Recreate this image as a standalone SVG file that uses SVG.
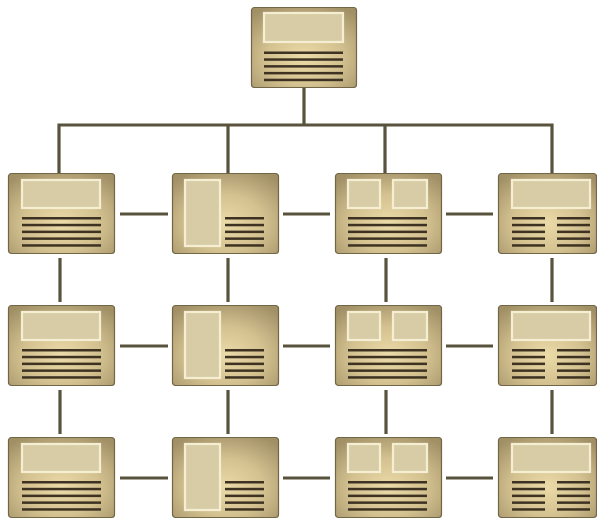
<svg xmlns="http://www.w3.org/2000/svg" width="597" height="519" viewBox="0 0 597 519">
<defs>
<radialGradient id="boxg" cx="0.5" cy="0.62" r="0.72">
<stop offset="0" stop-color="#ebdba8"/>
<stop offset="0.5" stop-color="#d3c190"/>
<stop offset="1" stop-color="#a19066"/>
</radialGradient>
<filter id="glow" x="-10%" y="-10%" width="120%" height="120%">
<feGaussianBlur stdDeviation="0.7"/>
</filter>
<style>
.box{fill:url(#boxg);stroke:#716646;stroke-width:1.2}
.pan{fill:#d8cca6;stroke:#f6eed3;stroke-width:2.2;filter:url(#glow)}
.ln{fill:#3e3322}
.con{fill:none;stroke:#59533d;stroke-width:3.2;stroke-linejoin:miter}
</style>
<g id="l5w">
<rect class="ln" x="0" y="0" width="79" height="2.5"/>
<rect class="ln" x="0" y="6.8" width="79" height="2.5"/>
<rect class="ln" x="0" y="13.6" width="79" height="2.5"/>
<rect class="ln" x="0" y="20.4" width="79" height="2.5"/>
<rect class="ln" x="0" y="27.2" width="79" height="2.5"/>
</g>
<g id="l5n">
<rect class="ln" x="0" y="0" width="39" height="2.5"/>
<rect class="ln" x="0" y="6.8" width="39" height="2.5"/>
<rect class="ln" x="0" y="13.6" width="39" height="2.5"/>
<rect class="ln" x="0" y="20.4" width="39" height="2.5"/>
<rect class="ln" x="0" y="27.2" width="39" height="2.5"/>
</g>
<g id="l5s">
<rect class="ln" x="0" y="0" width="33" height="2.5"/>
<rect class="ln" x="0" y="6.8" width="33" height="2.5"/>
<rect class="ln" x="0" y="13.6" width="33" height="2.5"/>
<rect class="ln" x="0" y="20.4" width="33" height="2.5"/>
<rect class="ln" x="0" y="27.2" width="33" height="2.5"/>
</g>
<g id="typeA">
<rect class="box" x="0.5" y="0.5" width="106" height="80" rx="3"/>
<rect class="pan" x="14" y="7" width="78" height="28"/>
<use href="#l5w" x="14" y="44"/>
</g>
<g id="typeB">
<rect class="box" x="0.5" y="0.5" width="106" height="80" rx="3"/>
<rect class="pan" x="13" y="7" width="35" height="66"/>
<use href="#l5n" x="53" y="44"/>
</g>
<g id="typeC">
<rect class="box" x="0.5" y="0.5" width="106" height="80" rx="3"/>
<rect class="pan" x="13" y="7" width="32" height="28"/>
<rect class="pan" x="58" y="7" width="34" height="28"/>
<use href="#l5w" x="13" y="44"/>
</g>
<g id="typeD">
<rect class="box" x="0.5" y="0.5" width="98" height="80" rx="3"/>
<rect class="pan" x="14" y="7" width="78" height="28"/>
<use href="#l5s" x="14" y="44"/>
<use href="#l5s" x="59" y="44"/>
</g>
</defs>
<rect width="597" height="519" fill="#ffffff"/>
<g id="connectors">
<path class="con" d="M304,87 V125 M59,173 V125 H552 V173 M228,125 V173 M385,125 V173"/>
<path class="con" d="M120,214 H168 M283,214 H330 M446,214 H493"/>
<path class="con" d="M120,346 H168 M283,346 H330 M446,346 H493"/>
<path class="con" d="M120,478 H168 M283,478 H330 M446,478 H493"/>
<path class="con" d="M60,258 V302 M228,258 V302 M386,258 V302 M552,258 V302"/>
<path class="con" d="M60,390 V434 M228,390 V434 M386,390 V434 M552,390 V434"/>
</g>
<g id="top">
<rect class="box" x="251.5" y="7.5" width="105" height="80" rx="3"/>
<rect class="pan" x="264" y="13" width="79" height="29"/>
<use href="#l5w" x="264" y="51.5"/>
</g>
<g id="r1c1"><use href="#typeA" x="8" y="173"/></g>
<g id="r1c2"><use href="#typeB" x="172" y="173"/></g>
<g id="r1c3"><use href="#typeC" x="335" y="173"/></g>
<g id="r1c4"><use href="#typeD" x="498" y="173"/></g>
<g id="r2c1"><use href="#typeA" x="8" y="305"/></g>
<g id="r2c2"><use href="#typeB" x="172" y="305"/></g>
<g id="r2c3"><use href="#typeC" x="335" y="305"/></g>
<g id="r2c4"><use href="#typeD" x="498" y="305"/></g>
<g id="r3c1"><use href="#typeA" x="8" y="437"/></g>
<g id="r3c2"><use href="#typeB" x="172" y="437"/></g>
<g id="r3c3"><use href="#typeC" x="335" y="437"/></g>
<g id="r3c4"><use href="#typeD" x="498" y="437"/></g>
</svg>
